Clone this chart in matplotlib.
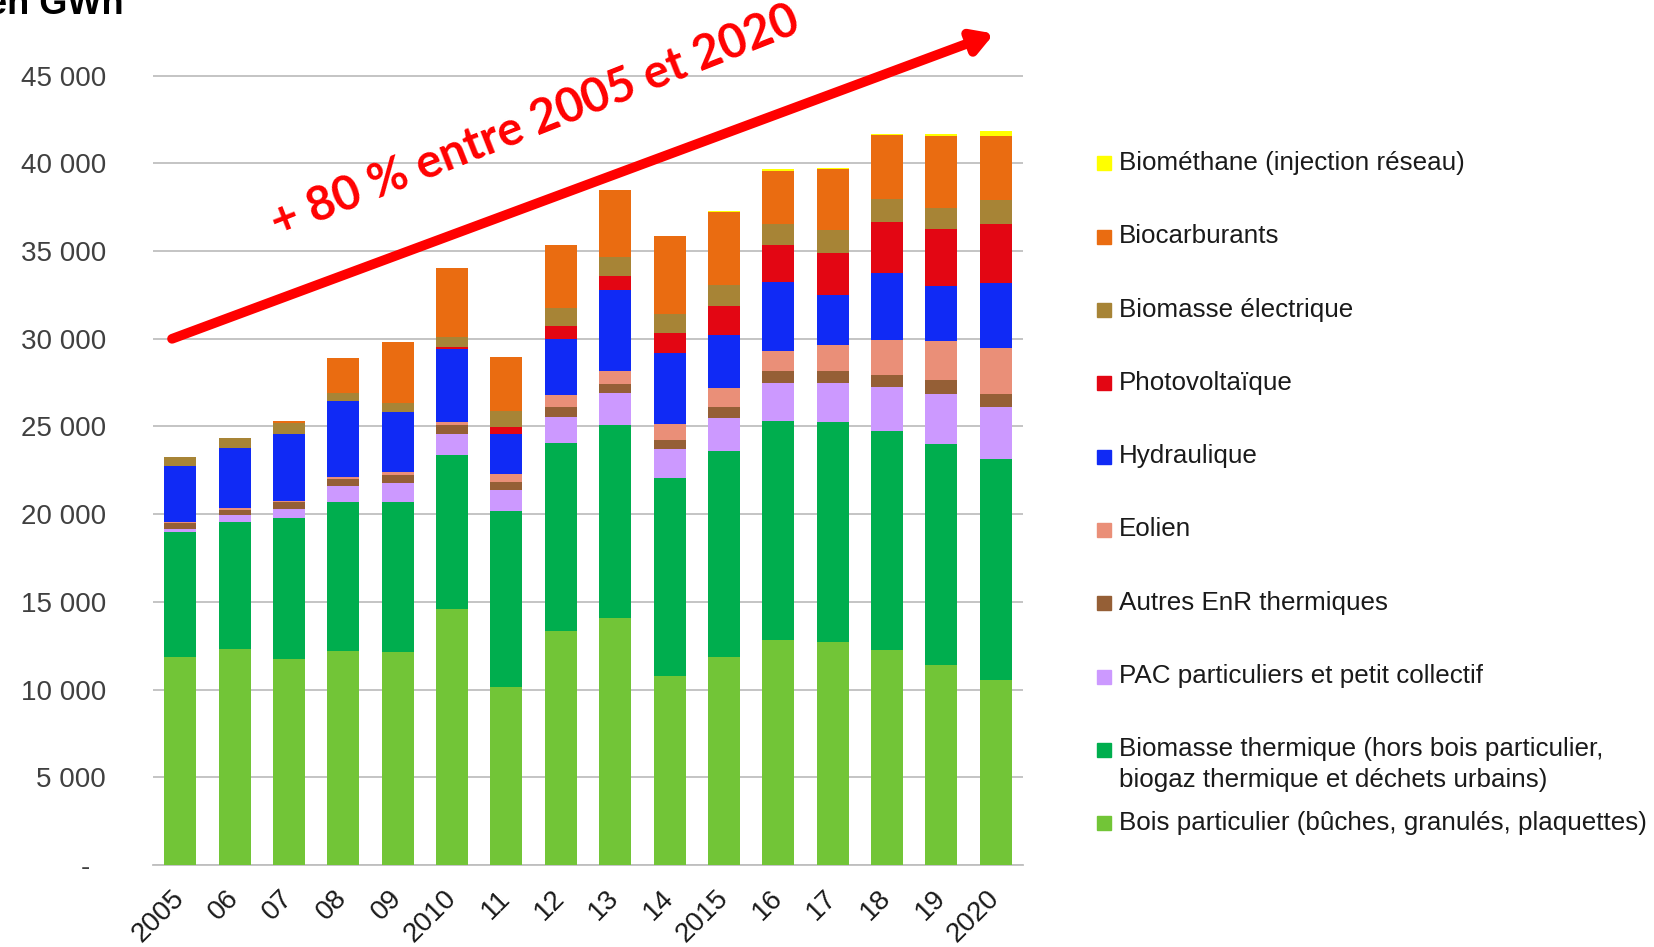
import matplotlib
matplotlib.use("Agg")
import matplotlib.pyplot as plt
from matplotlib.patches import Rectangle
import numpy as np

plt.rcParams['font.family'] = ['Liberation Sans', 'DejaVu Sans']

# data (GWh)
years = ["2005", "06", "07", "08", "09", "2010", "11", "12", "13", "14",
         "2015", "16", "17", "18", "19", "2020"]

bois = [11860, 12330, 11740, 12200, 12120, 14570, 10160, 13350, 14090, 10780,
        11880, 12800, 12720, 12260, 11390, 10570]
bio_th = [7100, 7220, 8020, 8510, 8590, 8780, 10000, 10730, 11010, 11290,
          11750, 12500, 12510, 12490, 12620, 12580]
pac = [180, 410, 550, 880, 1060, 1200, 1200, 1460, 1820, 1620,
       1870, 2200, 2270, 2500, 2830, 2950]
autres = [330, 290, 410, 430, 490, 530, 490, 570, 530, 550,
          610, 660, 660, 700, 800, 740]
eolien = [100, 80, 60, 120, 140, 200, 470, 660, 740, 880,
          1080, 1160, 1480, 2000, 2240, 2620]
hydro = [3160, 3430, 3800, 4310, 3430, 4160, 2240, 3220, 4570, 4080,
         3030, 3890, 2850, 3800, 3150, 3700]
pv = [0, 0, 0, 0, 10, 70, 410, 760, 800, 1140,
      1670, 2160, 2410, 2900, 3210, 3360]
bio_el = [550, 610, 630, 470, 490, 620, 920, 990, 1080, 1080,
          1200, 1200, 1290, 1330, 1210, 1420]
biocarb = [0, 0, 80, 1960, 3490, 3880, 3100, 3620, 3830, 4440,
           4130, 3015, 3470, 3660, 4120, 3620]
biomethane = [0, 0, 0, 0, 0, 0, 0, 0, 0, 0,
              50, 75, 76, 57, 114, 265]

# bottom to top
series = [
    (bois, "Bois particulier (bûches, granulés, plaquettes)", "#72C537"),
    (bio_th, "Biomasse thermique (hors bois particulier,\nbiogaz thermique et déchets urbains)", "#00AE4E"),
    (pac, "PAC particuliers et petit collectif", "#CC99FF"),
    (autres, "Autres EnR thermiques", "#955F36"),
    (eolien, "Eolien", "#EA8F78"),
    (hydro, "Hydraulique", "#102AF5"),
    (pv, "Photovoltaïque", "#E30613"),
    (bio_el, "Biomasse électrique", "#A78436"),
    (biocarb, "Biocarburants", "#EA6C11"),
    (biomethane, "Biométhane (injection réseau)", "#FFFF00"),
]

W, H = 1654, 947
fig = plt.figure(figsize=(W / 100, H / 100), dpi=100)

def fx(x):
    return x / W

def fy(y):
    return 1 - y / H

ymax = 46000
top_px = 865 - ymax * 0.01754
ax = fig.add_axes([fx(153), fy(865), fx(1023) - fx(153), (865 - top_px) / H])

x = np.arange(len(years))
bottom = np.zeros(len(years))
for vals, label, color in series:
    ax.bar(x, vals, width=0.59, bottom=bottom, color=color, linewidth=0, zorder=3)
    bottom += np.array(vals)

ax.set_xlim(-0.5, len(years) - 0.5)
ax.set_ylim(0, ymax)
ax.set_yticks(range(0, 45001, 5000))
ax.set_yticklabels(["-  "] + [f"{v // 1000} 000" for v in range(5000, 45001, 5000)])
ax.grid(axis="y", color="#BFBFBF", linewidth=1.3, zorder=0)
ax.tick_params(axis="y", length=0, pad=34, labelsize=20, labelcolor="#404040")
ax.set_xticks(x)
ax.set_xticklabels(years, rotation=45, ha="right", va="center", rotation_mode="anchor")
ax.tick_params(axis="x", length=0, pad=21, labelsize=20, labelcolor="#1a1a1a")
for s in ["top", "left", "right"]:
    ax.spines[s].set_visible(False)
ax.spines["bottom"].set_color("#BFBFBF")
ax.spines["bottom"].set_linewidth(1.3)

# growth arrow and label
ax.annotate("", xy=(14.97, 47400), xytext=(-0.15, 30000),
            arrowprops=dict(arrowstyle="-|>,head_length=1.2,head_width=0.7",
                            color="#FF0000", lw=7, shrinkA=0, shrinkB=0),
            annotation_clip=False, zorder=5)
fig.text(fx(535), fy(122), "+ 80 % entre 2005 et 2020", color="#FF0000",
         fontsize=34, fontweight="bold", family="Lato", rotation=21.5,
         ha="center", va="center")

# unit title, cut at the top edge as in the reference
fig.text(fx(-13), fy(14), "en GWh", fontsize=26, fontweight="bold",
         ha="left", va="baseline", color="#000000")

# legend, drawn by hand (top entry first)
row0 = 163.5
step = 73.3
for i, (vals, label, color) in enumerate(series[::-1]):
    yc = row0 + i * step
    fig.add_artist(Rectangle((fx(1097), fy(yc + 7)), 14 / W, 14 / H,
                             transform=fig.transFigure, color=color))
    fig.text(fx(1119), fy(yc - 12.5), label, fontsize=18.7, color="#1a1a1a",
             ha="left", va="top", linespacing=1.33)

fig.savefig("out.png", dpi=100)
